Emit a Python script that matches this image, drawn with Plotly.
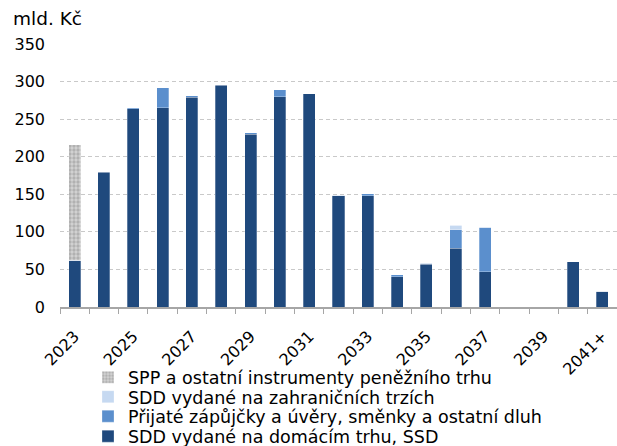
import plotly.graph_objects as go

categories = ["2023", "2024", "2025", "2026", "2027", "2028", "2029", "2030", "2031", "2032",
              "2033", "2034", "2035", "2036", "2037", "2038", "2039", "2040", "2041+"]
domestic = [62, 179, 264, 265, 279, 295, 230, 280, 284, 148, 148, 40, 57, 78, 47, 0, 0, 60, 21]
loans = [0, 1, 1, 27, 2, 1, 2, 9, 0, 1, 3, 3, 1, 25, 59, 0, 0, 0, 0]
foreign = [0, 0, 0, 0, 0, 0, 0, 0, 0, 0, 0, 0, 0, 6, 0, 0, 0, 0, 0]
spp = [154, 0, 0, 0, 0, 0, 0, 0, 0, 0, 0, 0, 0, 0, 0, 0, 0, 0, 0]
tick_labels = ["2023", "2025", "2027", "2029", "2031", "2033", "2035", "2037", "2039", "2041+"]

names = {
    "domestic": "SDD vydané na domácím trhu, SSD",
    "loans": "Přijaté zápůjčky a úvěry, směnky a ostatní dluh",
    "foreign": "SDD vydané na zahraničních trzích",
    "spp": "SPP a ostatní instrumenty peněžního trhu",
}

W, H = 617, 446
ML, MR, MT, MB = 60, 0, 44, 138.5
PH = H - MT - MB
PW = W - ML - MR

x = list(range(len(categories)))
tickvals = [categories.index(t) for t in tick_labels]


def py(p):
    return (H - MB - p) / PH


def px(p):
    return (p - ML) / PW


fig = go.Figure()
line = dict(color="rgba(255,255,255,0.35)", width=0.8)
fig.add_trace(go.Bar(x=x, y=domestic, name=names["domestic"], legend="legend4",
                     marker=dict(color="#1f497d", line=line)))
fig.add_trace(go.Bar(x=x, y=loans, name=names["loans"], legend="legend3",
                     marker=dict(color="#5b8fcd", line=line)))
fig.add_trace(go.Bar(x=x, y=foreign, name=names["foreign"], legend="legend2",
                     marker=dict(color="#c6d9f1", line=line)))
fig.add_trace(go.Bar(x=x, y=spp, name=names["spp"], legend="legend",
                     marker=dict(color="#c8c8c8", line=line,
                                 pattern=dict(shape=".", size=4, solidity=0.55,
                                              fgcolor="#8e8e8e", bgcolor="#d4d4d4"))))

leg_x = px(128 - 40)
row_y = [378, 397.5, 417, 437]


def leg(yc):
    return dict(x=leg_x, y=py(yc), xanchor="left", yanchor="middle",
                font=dict(size=17.5), itemwidth=30, bgcolor="rgba(0,0,0,0)")


fig.update_layout(
    barmode="stack",
    bargap=0.59,
    width=W, height=H,
    margin=dict(l=ML, r=MR, t=MT, b=MB, autoexpand=False),
    plot_bgcolor="white", paper_bgcolor="white",
    font=dict(family="DejaVu Sans", size=16, color="#000000"),
    showlegend=True,
    legend=leg(row_y[0]),
    legend2=leg(row_y[1]),
    legend3=leg(row_y[2]),
    legend4=leg(row_y[3]),
    xaxis=dict(range=[-0.5, len(categories) - 0.5], automargin=False,
               tickvals=tickvals, ticktext=tick_labels, tickangle=-45,
               ticks="", showgrid=False, ticklabelstandoff=12,
               showline=True, linecolor="#a6a6a6", linewidth=1.5,
               minor=dict(tick0=-0.5, dtick=1, ticks="outside", ticklen=5,
                          tickcolor="#a6a6a6", tickwidth=1.3, showgrid=False),
               tickfont=dict(size=16)),
    yaxis=dict(range=[0, 350], dtick=50, showgrid=True, automargin=False,
               gridcolor="#c9c9c9", gridwidth=1.3, griddash="4px,3px",
               zeroline=False, showline=False, ticks="",
               ticklabelstandoff=14, tickfont=dict(size=16)),
    annotations=[dict(text="mld. Kč", xref="paper", yref="paper",
                      x=px(11), y=py(18),
                      xanchor="left", yanchor="middle", showarrow=False,
                      font=dict(size=18.5))],
)

fig.write_html("out.html", config={"displayModeBar": False},
               post_script="document.body.style.margin='0';document.body.style.overflow='hidden';")
